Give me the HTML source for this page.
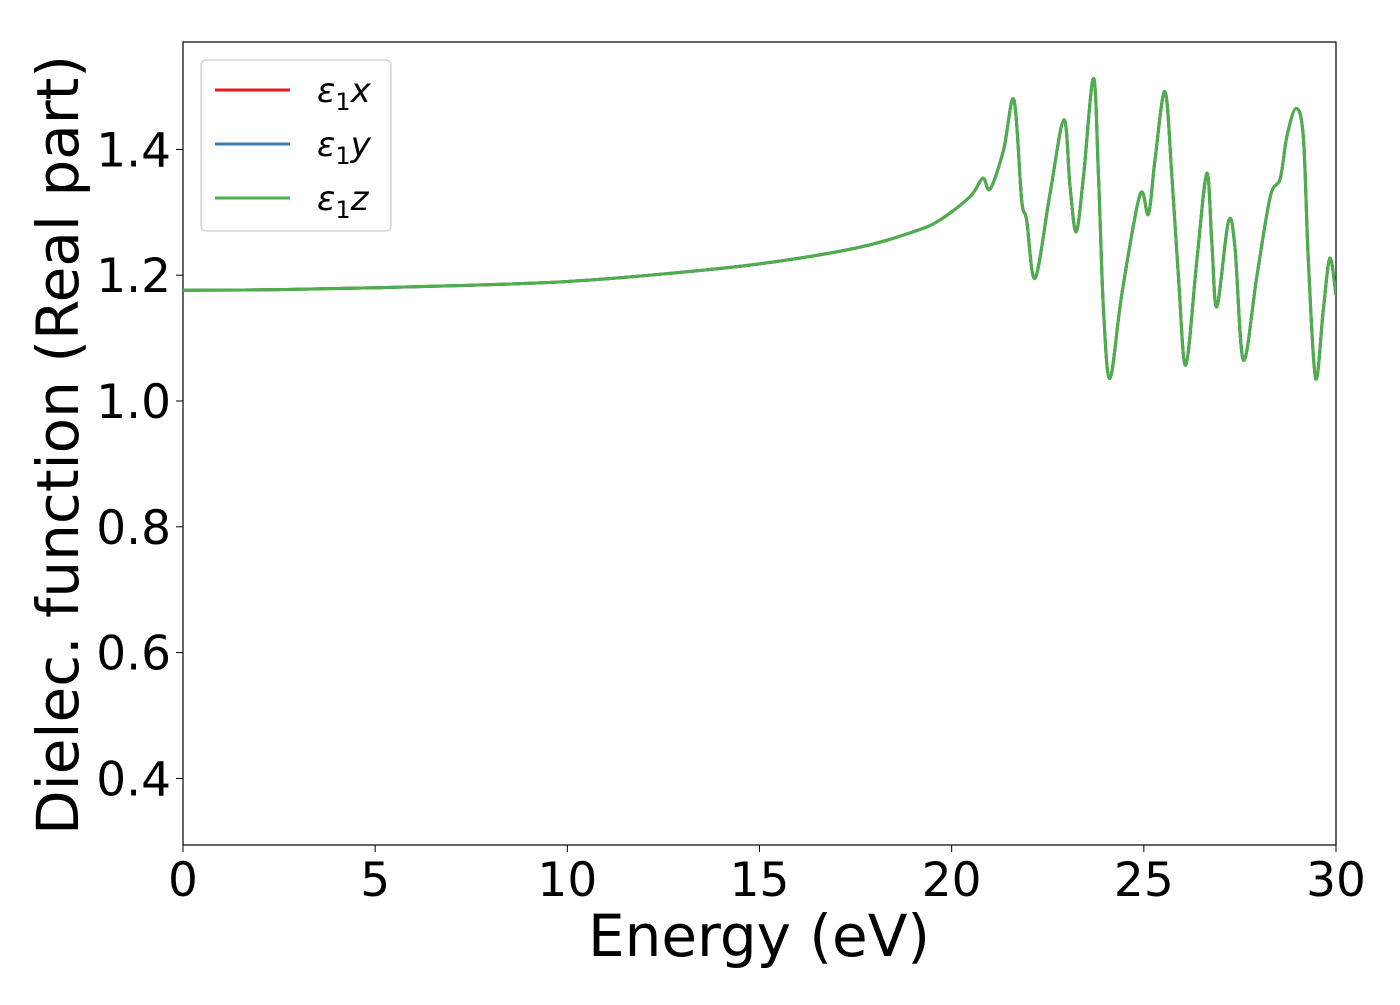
<!DOCTYPE html>
<html><head><meta charset="utf-8"><style>
body{margin:0;background:#fff;}
svg text{font-family:"DejaVu Sans","Liberation Sans",sans-serif;fill:#000;}
</style></head><body>
<svg id="chart" width="1400" height="1000" xmlns="http://www.w3.org/2000/svg">
<rect x="183" y="42" width="1153" height="803" fill="#fff" stroke="#000" stroke-width="1.2"/>
<g id="xticks"></g>
<g id="yticks"></g>
<g id="series"></g>
<text x="759" y="956" font-size="58" text-anchor="middle">Energy (eV)</text>
<text transform="translate(78,445) rotate(-90)" font-size="58" text-anchor="middle">Dielec. function (Real part)</text>
<g>
<rect x="201" y="60" width="190" height="171" rx="5" fill="#fff" stroke="#ccc" stroke-width="1.2"/>
<line x1="215" y1="90" x2="290" y2="90" stroke="#e41a1c" stroke-width="3"/>
<text x="317" y="102" font-size="34" font-style="italic">ε<tspan font-size="24" dy="8" font-style="normal">1</tspan><tspan dy="-8">x</tspan></text>
<line x1="215" y1="144" x2="290" y2="144" stroke="#377eb8" stroke-width="3"/>
<text x="317" y="156" font-size="34" font-style="italic">ε<tspan font-size="24" dy="8" font-style="normal">1</tspan><tspan dy="-8">y</tspan></text>
<line x1="215" y1="198" x2="290" y2="198" stroke="#4daf4a" stroke-width="3"/>
<text x="317" y="210" font-size="34" font-style="italic">ε<tspan font-size="24" dy="8" font-style="normal">1</tspan><tspan dy="-8">z</tspan></text>
</g>
</svg>
<script>
const energies=[0,2.5,5,7.5,10,12.5,15,17.5,19,19.7,20.48,20.81,21.0,21.35,21.62,21.82,21.95,22.17,22.56,22.92,23.08,23.24,23.43,23.69,23.82,23.95,24.12,24.43,24.9,25.12,25.29,25.55,25.73,25.9,26.09,26.38,26.64,26.77,26.9,27.2,27.37,27.59,27.94,28.29,28.55,28.72,28.96,29.15,29.28,29.47,29.67,29.84,30.0];
const eps1=[1.176,1.177,1.180,1.184,1.190,1.202,1.218,1.243,1.269,1.288,1.325,1.354,1.337,1.399,1.479,1.320,1.288,1.195,1.330,1.447,1.341,1.269,1.357,1.513,1.357,1.145,1.036,1.171,1.328,1.297,1.383,1.492,1.357,1.198,1.057,1.224,1.362,1.251,1.150,1.285,1.245,1.065,1.198,1.325,1.354,1.420,1.465,1.420,1.224,1.036,1.145,1.227,1.168];
const xTicks=[0,5,10,15,20,25,30];
const yTicks=[0.4,0.6,0.8,1.0,1.2,1.4];
const seriesNames=["x","y","z"];
const seriesColors=["#e41a1c","#377eb8","#4daf4a"];
const NS="http://www.w3.org/2000/svg";
const X=v=>183+(v-0)/30*1153;
const Y=v=>401-(v-1.0)*629;
const xg=document.getElementById('xticks'),yg=document.getElementById('yticks'),sg=document.getElementById('series');
xTicks.forEach(t=>{
 const l=document.createElementNS(NS,'line');
 
 
 l.setAttribute('x1',X(t));l.setAttribute('x2',X(t));l.setAttribute('y1',845);l.setAttribute('y2',852);l.setAttribute('stroke','#000');
 xg.appendChild(l);
 const tx=document.createElementNS(NS,'text');
 
 
 tx.setAttribute('x',X(t));tx.setAttribute('y',896);tx.setAttribute('font-size','47');tx.setAttribute('text-anchor','middle');
 tx.textContent=t;xg.appendChild(tx);
});
yTicks.forEach(t=>{
 const l=document.createElementNS(NS,'line');
 
 
 l.setAttribute('x1',176);l.setAttribute('x2',183);l.setAttribute('y1',Y(t));l.setAttribute('y2',Y(t));l.setAttribute('stroke','#000');
 yg.appendChild(l);
 const tx=document.createElementNS(NS,'text');
 
 
 tx.setAttribute('x',171);tx.setAttribute('y',Y(t)+17);tx.setAttribute('font-size','47');tx.setAttribute('text-anchor','end');
 tx.textContent=t.toFixed(1);yg.appendChild(tx);
});
function pathD(xs,ys){
 const p=xs.map((e,i)=>[X(e),Y(ys[i])]);
 let d='M'+p[0][0]+','+p[0][1];
 for(let i=0;i<p.length-1;i++){
  const p0=p[Math.max(0,i-1)],p1=p[i],p2=p[i+1],p3=p[Math.min(p.length-1,i+2)];
  const c1=[p1[0]+(p2[0]-p0[0])/6,p1[1]+(p2[1]-p0[1])/6];
  const c2=[p2[0]-(p3[0]-p1[0])/6,p2[1]-(p3[1]-p1[1])/6];
  d+=` C${c1[0]},${c1[1]} ${c2[0]},${c2[1]} ${p2[0]},${p2[1]}`;
 }
 return d;
}
seriesNames.forEach((n,i)=>{
 const path=document.createElementNS(NS,'path');
 
 
 path.setAttribute('d',pathD(energies,eps1));
 path.setAttribute('fill','none');path.setAttribute('stroke',seriesColors[i]);path.setAttribute('stroke-width','3');
 path.setAttribute('clip-path','url(#clip)');
 sg.appendChild(path);
});
const defs=document.createElementNS(NS,'defs');
defs.innerHTML='<clipPath id="clip"><rect x="183" y="42" width="1153" height="803"/></clipPath>';
document.getElementById('chart').prepend(defs);
</script>
</body></html>
